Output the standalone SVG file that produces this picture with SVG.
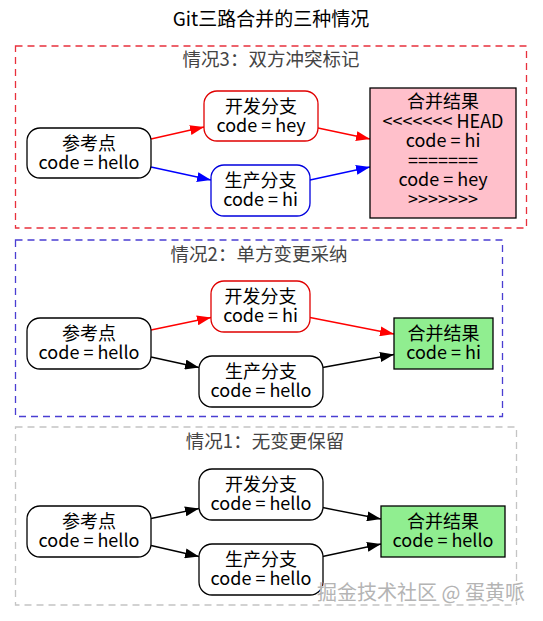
<svg xmlns="http://www.w3.org/2000/svg" width="543" height="621" viewBox="0 0 543 621">
<defs>
<style>
text{font-family:"Noto Sans CJK SC","Noto Sans",sans-serif;text-anchor:middle;}
.t{font-size:18px;fill:#000;}
.title{font-size:19px;fill:#000;}
.cl{font-size:18.5px;fill:#444;}
.wm{font-size:20px;fill:#b4b4b4;stroke:#ffffff;stroke-width:0.6;paint-order:stroke;text-anchor:start;}
.nb{fill:#fff;stroke:#000;stroke-width:1.3;}
.nr{fill:#fff;stroke:#e00000;stroke-width:1.3;}
.nbl{fill:#fff;stroke:#0000dd;stroke-width:1.3;}
.pink{fill:#ffc0cb;stroke:#000;stroke-width:1.3;}
.green{fill:#90ee90;stroke:#000;stroke-width:1.3;}
.cluster{fill:none;stroke-width:1.3;stroke-dasharray:7,5;}
.e{fill:none;stroke-width:1.3;}
</style>
<marker id="ak" viewBox="0 0 14 10" refX="14" refY="5" markerWidth="14" markerHeight="10" markerUnits="userSpaceOnUse" orient="auto"><path d="M0,0 L14,5 L0,10 z" fill="#000"/></marker>
<marker id="ar" viewBox="0 0 14 10" refX="14" refY="5" markerWidth="14" markerHeight="10" markerUnits="userSpaceOnUse" orient="auto"><path d="M0,0 L14,5 L0,10 z" fill="#f00"/></marker>
<marker id="ab" viewBox="0 0 14 10" refX="14" refY="5" markerWidth="14" markerHeight="10" markerUnits="userSpaceOnUse" orient="auto"><path d="M0,0 L14,5 L0,10 z" fill="#00f"/></marker>
</defs>
<rect width="543" height="621" fill="#fff"/>
<text class="title" x="271" y="26">Git三路合并的三种情况</text>

<g id="cluster3">
<rect class="cluster" x="15.5" y="46" width="511" height="182" stroke="#e8303c"/>
<text class="cl" x="271" y="66">情况3：双方冲突标记</text>
</g>
<g id="cluster2">
<rect class="cluster" x="15.5" y="240" width="487" height="176.5" stroke="#4a3ed2"/>
<text class="cl" x="259" y="260.5">情况2：单方变更采纳</text>
</g>
<g id="cluster1">
<rect class="cluster" x="15.5" y="427" width="501" height="178" stroke="#c4c4c4"/>
<text class="cl" x="265" y="448">情况1：无变更保留</text>
</g>

<g id="connectors">
<line class="e" stroke="#f00" marker-end="url(#ar)" x1="151" y1="139" x2="204" y2="127"/>
<line class="e" stroke="#00f" marker-end="url(#ab)" x1="151" y1="167" x2="211" y2="180"/>
<line class="e" stroke="#f00" marker-end="url(#ar)" x1="318" y1="128" x2="370" y2="139"/>
<line class="e" stroke="#00f" marker-end="url(#ab)" x1="310" y1="180" x2="370" y2="167"/>

<line class="e" stroke="#f00" marker-end="url(#ar)" x1="151" y1="330" x2="211" y2="317.5"/>
<line class="e" stroke="#000" marker-end="url(#ak)" x1="151" y1="357" x2="199" y2="367.5"/>
<line class="e" stroke="#f00" marker-end="url(#ar)" x1="310" y1="317.5" x2="394" y2="334"/>
<line class="e" stroke="#000" marker-end="url(#ak)" x1="322.5" y1="367.5" x2="394" y2="354.5"/>

<line class="e" stroke="#000" marker-end="url(#ak)" x1="151" y1="518.5" x2="199" y2="508.5"/>
<line class="e" stroke="#000" marker-end="url(#ak)" x1="151" y1="545.5" x2="199" y2="556.5"/>
<line class="e" stroke="#000" marker-end="url(#ak)" x1="322.5" y1="507.5" x2="381" y2="519"/>
<line class="e" stroke="#000" marker-end="url(#ak)" x1="322.5" y1="556.5" x2="381" y2="544"/>
</g>

<g id="base3"><rect class="nb" x="27" y="128" width="124" height="50" rx="13"/><text class="t" x="89" y="149.5">参考点<tspan x="89" dy="19">code = hello</tspan></text></g>
<g id="dev3"><rect class="nr" x="204" y="91" width="114" height="50" rx="13"/><text class="t" x="261" y="112.5">开发分支<tspan x="261" dy="19">code = hey</tspan></text></g>
<g id="prod3"><rect class="nbl" x="211" y="165" width="99" height="51" rx="13"/><text class="t" x="260.5" y="187">生产分支<tspan x="260.5" dy="19">code = hi</tspan></text></g>
<g id="merge3"><rect class="pink" x="370" y="88" width="146" height="130"/>
<text class="t" x="443" y="108">合并结果<tspan x="443" dy="19.5">&lt;&lt;&lt;&lt;&lt;&lt;&lt; HEAD</tspan><tspan x="443" dy="19.5">code = hi</tspan><tspan x="443" dy="19.5">=======</tspan><tspan x="443" dy="19.5">code = hey</tspan><tspan x="443" dy="19.5">&gt;&gt;&gt;&gt;&gt;&gt;&gt;</tspan></text>
</g>

<g id="base2"><rect class="nb" x="27" y="318" width="124" height="51" rx="13"/><text class="t" x="89" y="340">参考点<tspan x="89" dy="19">code = hello</tspan></text></g>
<g id="dev2"><rect class="nr" x="211" y="281" width="99" height="51" rx="13"/><text class="t" x="260.5" y="303">开发分支<tspan x="260.5" dy="19">code = hi</tspan></text></g>
<g id="prod2"><rect class="nb" x="199" y="356" width="124" height="51" rx="13"/><text class="t" x="261" y="377.5">生产分支<tspan x="261" dy="19">code = hello</tspan></text></g>
<g id="merge2"><rect class="green" x="394" y="318" width="99" height="51"/><text class="t" x="443.5" y="340">合并结果<tspan x="443.5" dy="19">code = hi</tspan></text></g>

<g id="base1"><rect class="nb" x="27" y="506" width="124" height="51" rx="13"/><text class="t" x="89" y="528">参考点<tspan x="89" dy="19">code = hello</tspan></text></g>
<g id="dev1"><rect class="nb" x="199" y="469" width="124" height="51" rx="13"/><text class="t" x="261" y="491">开发分支<tspan x="261" dy="19">code = hello</tspan></text></g>
<g id="prod1"><rect class="nb" x="199" y="544" width="124" height="51" rx="13"/><text class="t" x="261" y="566">生产分支<tspan x="261" dy="19">code = hello</tspan></text></g>
<g id="merge1"><rect class="green" x="381" y="506" width="124" height="51"/><text class="t" x="443" y="528">合并结果<tspan x="443" dy="19">code = hello</tspan></text></g>

<text class="wm" x="317" y="600">掘金技术社区 @ 蛋黄哌</text>
</svg>
